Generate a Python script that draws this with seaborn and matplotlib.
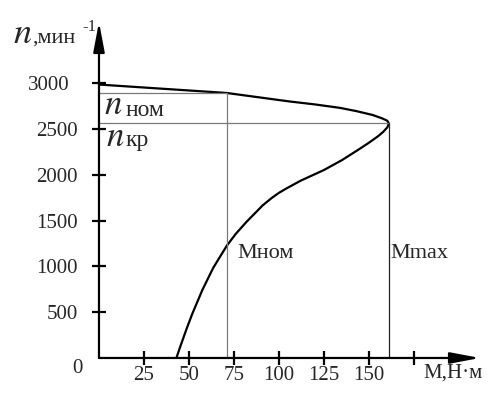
import numpy as np
import pandas as pd
import matplotlib
matplotlib.use("Agg")
import matplotlib.pyplot as plt
import seaborn as sns

# mechanical characteristic n(M), in drawing order
torque = [43, 45, 48.7, 52, 57.5, 63.5, 71, 76, 82, 91, 96, 100, 104, 112, 125,
          135, 145, 150, 155, 158, 160.3, 161, 160.6, 160, 157, 152, 143, 134,
          120, 106, 71, 0]
speed = [0, 115, 320, 490, 745, 985, 1225, 1355, 1487, 1667, 1747, 1803, 1849,
         1935, 2052, 2160, 2285, 2350, 2420, 2470, 2520, 2560, 2578, 2592, 2618,
         2653, 2695, 2730, 2768, 2800, 2893, 2985]

m_nom, n_nom = 71, 2893
m_max, n_kr = 161, 2560

x_ticks = [25, 50, 75, 100, 125, 150, 175]
x_labels = ["25", "50", "75", "100", "125", "150", ""]
y_ticks = [500, 1000, 1500, 2000, 2500, 3000]

sns.set_style("white")
plt.rcParams["font.family"] = ["Liberation Serif", "DejaVu Serif"]
plt.rcParams["mathtext.fontset"] = "stix"

fig = plt.figure(figsize=(4.89, 3.97), dpi=100)
ax = fig.add_axes([0, 0, 1, 1])
ax.set_xlim(-55, 216.7)
ax.set_ylim(-426, 3908)

df = pd.DataFrame({"M": torque, "n": speed})
sns.lineplot(data=df, x="M", y="n", sort=False, estimator=None,
             color="black", lw=1.6, ax=ax)

# guide lines for nominal and critical points
ax.plot([0, m_nom], [n_nom, n_nom], color="#7a7a7a", lw=0.9)
ax.plot([m_nom, m_nom], [n_nom, 0], color="#7a7a7a", lw=0.9)
ax.plot([0, m_max], [n_kr, n_kr], color="#7a7a7a", lw=0.9)
ax.plot([m_max, m_max], [n_kr, 0], color="#222222", lw=0.9)

# axes with arrows
for s in ax.spines.values():
    s.set_visible(False)
arrow = dict(arrowstyle="-|>,head_length=0.9,head_width=0.17", lw=1.6,
             color="black", shrinkA=0, shrinkB=0, mutation_scale=20)
ax.annotate("", xy=(211.7, 0), xytext=(0, 0), arrowprops=arrow)
ax.annotate("", xy=(0, 3668), xytext=(0, 0), arrowprops=arrow)

ax.spines["left"].set_position(("data", 0))
ax.spines["bottom"].set_position(("data", 0))
ax.set_xticks(x_ticks, x_labels)
ax.set_yticks(y_ticks)
ax.tick_params(direction="inout", length=10, width=1.6, color="black",
               labelsize=15, pad=1, left=True, bottom=True, labelleft=False)
ax.set_xlabel("")
ax.set_ylabel("")

for v in y_ticks:
    xr = -16.1 if v == 3000 else -11.7
    ax.text(xr, v, str(v), ha="right", va="center_baseline", fontsize=15)
ax.text(-8.9, -87, "0", ha="right", va="center_baseline", fontsize=15)
ax.text(180, -218, "М,Н·м", ha="left", va="baseline", fontsize=15)

# y-axis label n, мин^-1
ax.text(-47.5, 3439, "$n$", fontsize=26, va="baseline")
ax.text(-37, 3439, ",мин", fontsize=16, va="baseline")
ax.text(-9.4, 3570, "-1", fontsize=12, va="baseline")

# n_ном, n_кр
ax.text(3, 2660, "$n$", fontsize=25, va="baseline")
ax.text(14.8, 2645, "ном", fontsize=17, va="baseline")
ax.text(4, 2318, "$n$", fontsize=25, va="baseline")
ax.text(14.8, 2318, "кр", fontsize=17, va="baseline")

ax.text(76.7, 1092, "Мном", fontsize=16, va="baseline")
ax.text(161.7, 1092, "Mmax", fontsize=16, va="baseline")

fig.savefig("out.png", dpi=100)
